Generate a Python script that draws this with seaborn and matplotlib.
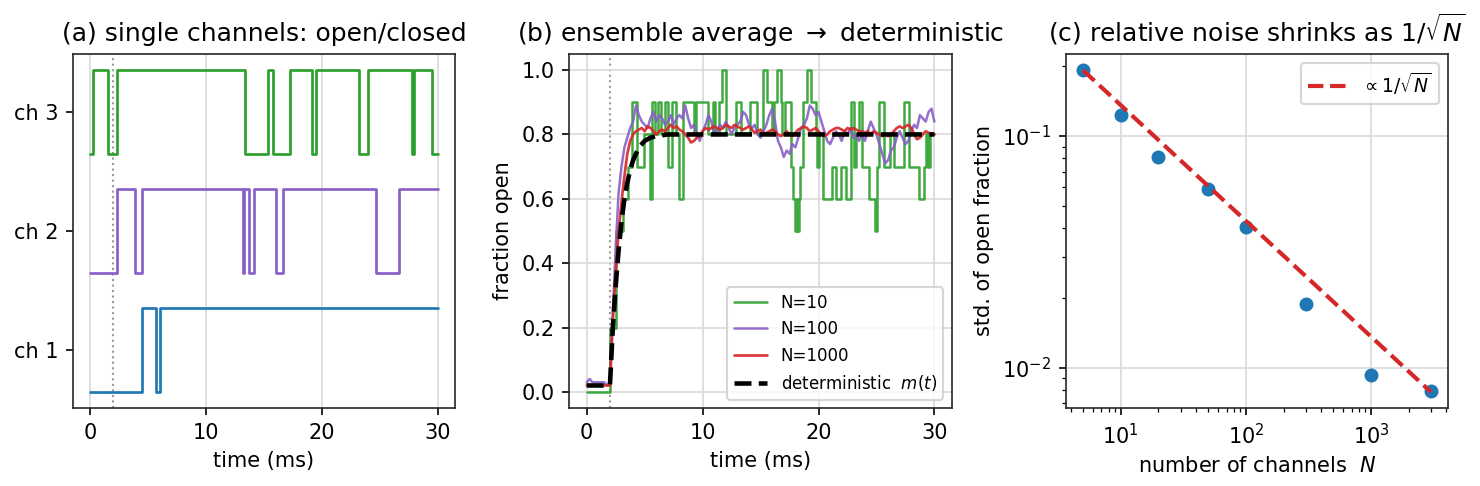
import numpy as np
import pandas as pd
import matplotlib
matplotlib.use("Agg")
import matplotlib.pyplot as plt
import seaborn as sns

# ----------------------------
# Data
# ----------------------------

# (a) single channels: switch times (ms) and state after each switch (0 closed, 1 open)
ch1_t = [0, 4.47, 5.67, 6.02, 30]
ch1_s = [0, 1, 0, 1, 1]
ch2_t = [0, 2.35, 3.90, 4.50, 13.18, 13.30, 13.75, 14.15, 16.05, 16.68, 24.70, 26.70, 30]
ch2_s = [0, 1, 0, 1, 0, 1, 0, 1, 0, 1, 0, 1, 1]
ch3_t = [0, 0.23, 1.58, 2.29, 13.35, 15.36, 15.82, 17.25, 19.11, 19.46, 23.18, 23.98,
         27.82, 27.94, 29.51, 30]
ch3_s = [0, 1, 0, 1, 0, 1, 0, 1, 0, 1, 0, 1, 0, 1, 0, 0]
channel_labels = ["ch 1", "ch 2", "ch 3"]

stim_t = 2.0

# (b) N=10 open fraction: step times and values
n10_t = [0, 1.98, 2.55, 3.12, 3.55, 3.90, 4.35, 4.93, 5.42, 5.62, 5.85, 6.13, 6.42, 6.71,
         6.99, 7.34, 7.71, 8.00, 8.34, 9.29, 9.43, 10.43, 10.86, 11.09, 11.38, 11.66,
         12.01, 12.87, 13.30, 14.07, 14.65, 15.20, 15.59, 16.00, 16.20, 16.45, 16.74,
         16.88, 17.08, 17.60, 17.83, 17.94, 18.10, 18.18, 18.29, 18.40, 18.69, 19.03,
         19.32, 19.75, 19.89, 20.03, 20.41, 21.18, 21.47, 21.96, 22.33, 22.84, 23.04,
         23.24, 23.47, 23.76, 24.39, 24.85, 25.05, 25.25, 25.62, 26.20, 26.50, 27.34,
         27.83, 28.69, 29.06, 29.26, 29.49, 29.63, 30.0]
n10_f = [0.0, 0.2, 0.5, 0.6, 0.7, 0.9, 0.7, 0.8, 0.6, 0.9, 0.8, 0.9, 0.8, 0.9,
         0.7, 0.9, 0.8, 0.6, 0.9, 0.8, 0.9, 0.8, 0.9, 0.8, 0.9, 1.0,
         0.8, 0.9, 0.8, 0.9, 0.8, 1.0, 0.9, 0.8, 0.9, 1.0, 0.9,
         0.8, 0.9, 0.7, 0.6, 0.5, 0.6, 0.5, 0.6, 0.7, 0.9, 1.0,
         0.9, 0.8, 0.7, 0.8, 0.6, 0.7, 0.6, 0.7, 0.6, 0.9, 0.7,
         0.8, 0.9, 0.7, 0.6, 0.5, 0.7, 0.9, 0.7, 0.8, 0.7, 0.9,
         0.7, 0.6, 0.7, 0.8, 0.7, 0.8, 0.8]

# N=100 and N=1000, sampled every 0.25 ms from 0 to 30 ms
ens_t = np.arange(0, 30.01, 0.25)
n100_f = [0.03, 0.04, 0.03, 0.03, 0.03, 0.03, 0.03, 0.02,
          0.03, 0.25, 0.45, 0.62, 0.70, 0.76, 0.79, 0.82, 0.84, 0.89, 0.86, 0.84,
          0.83, 0.82, 0.85, 0.87, 0.84, 0.86, 0.85, 0.83, 0.84, 0.86, 0.83, 0.85,
          0.86, 0.85, 0.89, 0.85, 0.82, 0.83, 0.80, 0.78, 0.81, 0.83, 0.86, 0.84,
          0.80, 0.81, 0.83, 0.82, 0.84, 0.82, 0.80, 0.82, 0.83, 0.84, 0.87, 0.86,
          0.83, 0.82, 0.83, 0.80, 0.79, 0.81, 0.83, 0.86, 0.88, 0.84, 0.78, 0.76,
          0.73, 0.75, 0.74, 0.77, 0.76, 0.79, 0.82, 0.83, 0.85, 0.89, 0.88, 0.86,
          0.87, 0.84, 0.81, 0.78, 0.77, 0.79, 0.81, 0.80, 0.78, 0.81, 0.80, 0.82,
          0.79, 0.80, 0.78, 0.80, 0.78, 0.81, 0.84, 0.82, 0.80, 0.77, 0.74, 0.71,
          0.72, 0.75, 0.76, 0.79, 0.81, 0.79, 0.77, 0.78, 0.81, 0.83, 0.82, 0.86,
          0.85, 0.84, 0.87, 0.88, 0.84]
n1000_f = [0.02, 0.02, 0.02, 0.02, 0.02, 0.02, 0.02, 0.02,
           0.02, 0.22, 0.37, 0.50, 0.59, 0.67, 0.74, 0.78, 0.80, 0.81, 0.815, 0.82,
           0.81, 0.825, 0.82, 0.81, 0.80, 0.81, 0.815, 0.81, 0.82, 0.83, 0.82, 0.825,
           0.815, 0.81, 0.80, 0.79, 0.775, 0.78, 0.79, 0.795, 0.81, 0.82, 0.815, 0.82,
           0.825, 0.82, 0.815, 0.82, 0.83, 0.825, 0.82, 0.83, 0.825, 0.82, 0.815, 0.82,
           0.825, 0.815, 0.805, 0.81, 0.815, 0.80, 0.805, 0.81, 0.815, 0.81, 0.80, 0.795,
           0.80, 0.81, 0.80, 0.795, 0.805, 0.815, 0.82, 0.825, 0.82, 0.81, 0.815, 0.82,
           0.81, 0.80, 0.795, 0.80, 0.81, 0.815, 0.82, 0.82, 0.815, 0.81, 0.82, 0.815,
           0.82, 0.815, 0.81, 0.81, 0.805, 0.81, 0.80, 0.81, 0.805, 0.80, 0.795, 0.80,
           0.795, 0.80, 0.81, 0.82, 0.825, 0.82, 0.825, 0.83, 0.82, 0.80, 0.785, 0.79,
           0.80, 0.81, 0.805, 0.80, 0.80]

# deterministic m(t)
det_t = [0, 2.0, 2.25, 2.5, 2.75, 3.0, 3.25, 3.5, 3.75, 4.0, 4.5, 5.0, 5.5, 6.0, 7.0, 8.0, 30.0]
det_m = [0.02, 0.02, 0.20, 0.33, 0.44, 0.53, 0.60, 0.65, 0.69, 0.72, 0.76, 0.78, 0.79,
         0.795, 0.80, 0.80, 0.80]

# (c) noise vs number of channels
n_channels = [5, 10, 20, 50, 100, 300, 1000, 3000]
noise_std = [0.1925, 0.1232, 0.0812, 0.0589, 0.0404, 0.0189, 0.00933, 0.00796]
fit_n = [5, 3000]
fit_std = [0.192, 0.00785]

# ----------------------------
# Figure
# ----------------------------

sns.set_style("ticks")
plt.rcParams["font.family"] = ["DejaVu Sans"]
plt.rcParams["axes.edgecolor"] = "0.15"
plt.rcParams["text.color"] = "black"
plt.rcParams["axes.labelcolor"] = "black"
plt.rcParams["xtick.color"] = "black"
plt.rcParams["ytick.color"] = "black"

c_blue = "#1f77b4"
c_green = "#2ca02c"
c_purple = "#8a5fc9"
c_red = "#d62728"

fig = plt.figure(figsize=(9.8667, 3.24), dpi=150)
ax_a = fig.add_axes([0.0491, 0.1605, 0.2584, 0.7284])
ax_b = fig.add_axes([0.3847, 0.1605, 0.2584, 0.7284])
ax_c = fig.add_axes([0.7201, 0.1605, 0.2584, 0.7284])

# ----------------------------
# (a) single channels
# ----------------------------

ax_a.axvline(stim_t, color="0.6", ls=":", lw=1, zorder=0)
for i, (tt, ss, col) in enumerate([(ch1_t, ch1_s, c_blue),
                                   (ch2_t, ch2_s, c_purple),
                                   (ch3_t, ch3_s, c_green)]):
    trace = pd.DataFrame({"t": tt, "y": i + 0.7 * np.array(ss) - 0.35})
    sns.lineplot(data=trace, x="t", y="y", ax=ax_a, color=col, lw=1.3,
                 drawstyle="steps-post", estimator=None, sort=False)

ax_a.set_yticks([0, 1, 2])
ax_a.set_yticklabels(channel_labels)
ax_a.set_xticks([0, 10, 20, 30])
ax_a.grid(axis="x", color="0.85", lw=0.8)
ax_a.set_xlabel("time (ms)")
ax_a.set_ylabel("")
ax_a.set_title("(a) single channels: open/closed", fontsize=12)

# ----------------------------
# (b) ensemble average
# ----------------------------

ax_b.axvline(stim_t, color="0.6", ls=":", lw=1, zorder=0)
sns.lineplot(x=n10_t, y=n10_f, ax=ax_b, color=c_green, lw=1.2, alpha=0.9,
             drawstyle="steps-post", estimator=None, sort=False, label="N=10")
sns.lineplot(x=ens_t, y=n100_f, ax=ax_b, color=c_purple, lw=1.2, alpha=0.9,
             estimator=None, sort=False, label="N=100")
sns.lineplot(x=ens_t, y=n1000_f, ax=ax_b, color=c_red, lw=1.3, alpha=0.9,
             estimator=None, sort=False, label="N=1000")
sns.lineplot(x=det_t, y=det_m, ax=ax_b, color="black", lw=2.2, ls="--",
             estimator=None, sort=False, label=r"deterministic  $m(t)$")

ax_b.set_xticks([0, 10, 20, 30])
ax_b.set_yticks([0.0, 0.2, 0.4, 0.6, 0.8, 1.0])
ax_b.grid(color="0.85", lw=0.8)
ax_b.set_xlabel("time (ms)")
ax_b.set_ylabel("fraction open")
ax_b.set_title(r"(b) ensemble average $\rightarrow$ deterministic", fontsize=12)
ax_b.legend(loc="lower right", fontsize=8)

# ----------------------------
# (c) noise scaling
# ----------------------------

sns.scatterplot(x=n_channels, y=noise_std, ax=ax_c, color=c_blue, s=45,
                linewidth=0, zorder=3)
sns.lineplot(x=fit_n, y=fit_std, ax=ax_c, color=c_red, lw=2, ls="--",
             estimator=None, sort=False, label=r"$\propto 1/\sqrt{N}$", zorder=4)
ax_c.set_xscale("log")
ax_c.set_yscale("log")
ax_c.grid(which="major", color="0.85", lw=0.8)
ax_c.set_xlabel(r"number of channels  $N$")
ax_c.set_ylabel("std. of open fraction")
ax_c.set_title(r"(c) relative noise shrinks as $1/\sqrt{N}$", fontsize=12)
ax_c.legend(loc="upper right", fontsize=9)

for ax in (ax_a, ax_b, ax_c):
    ax.tick_params(length=3.5, width=0.8)
    for sp in ax.spines.values():
        sp.set_linewidth(0.8)

fig.savefig("out.png", dpi=150)
